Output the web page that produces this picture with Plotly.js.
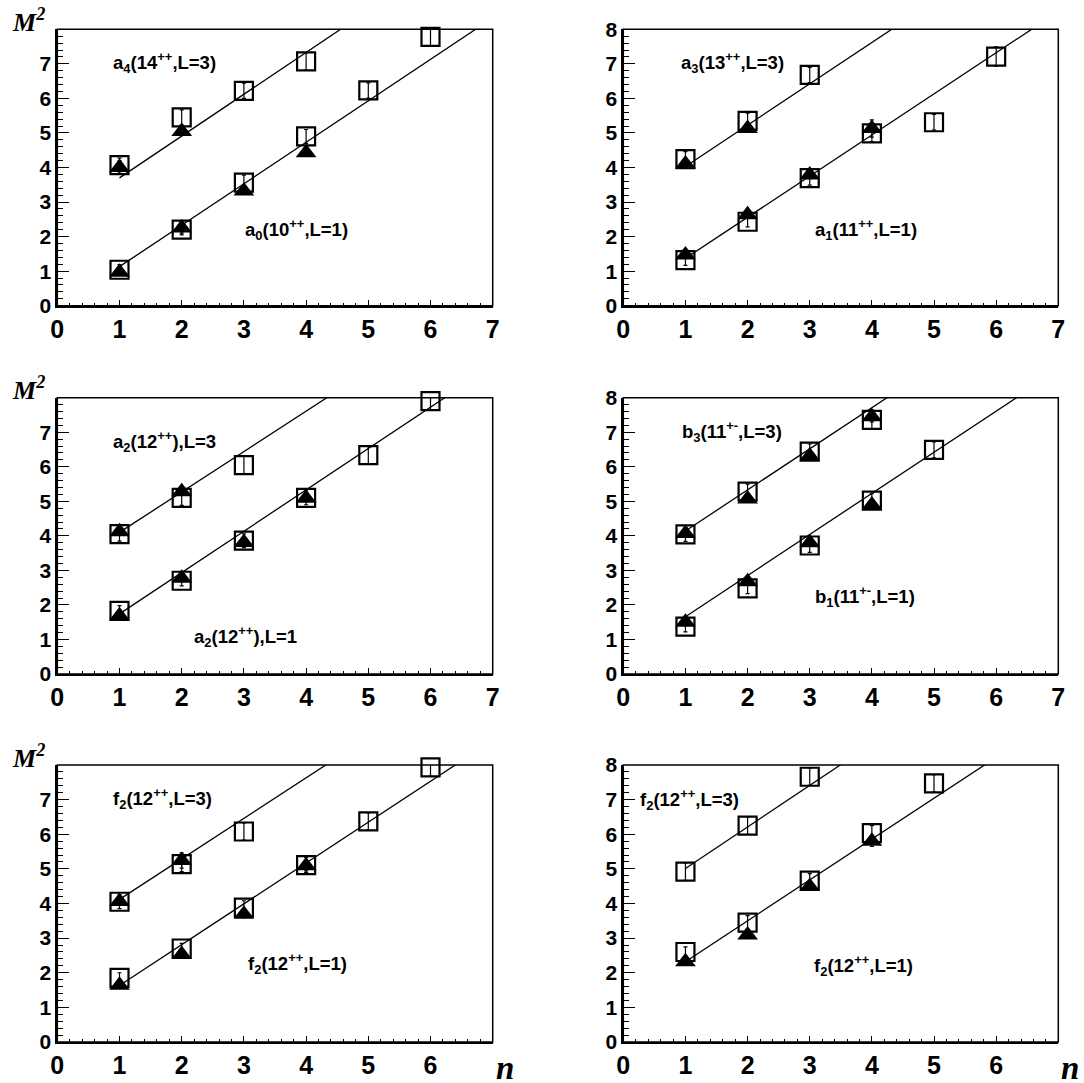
<!DOCTYPE html>
<html><head><meta charset="utf-8">
<script src="https://cdn.plot.ly/plotly-3.0.1.min.js"></script>
<style>html,body{margin:0;padding:0;background:#fff}</style>
</head><body><div id="chart" style="width:1084px;height:1083px"></div>
<script>
// ---- data (n = radial number, M^2 in GeV^2) ----
// Panel 1: a0 (L=1) / a4 (L=3)
const p1_sqHiN = [1,2,3,4],      p1_sqHi = [4.07,5.45,6.22,7.07],           p1_sqHiErr = [0.2,0.22,0.22,0.25];
const p1_trHiN = [1,2],          p1_trHi = [4.0,5.04],                      p1_trHiErr = [0.2,0.1];
const p1_sqLoN = [1,2,3,4,5,6],  p1_sqLo = [1.04,2.2,3.56,4.9,6.23,7.78],   p1_sqLoErr = [0.15,0.15,0.22,0.2,0.22,0.25];
const p1_trLoN = [1,2,3,4],      p1_trLo = [0.97,2.25,3.32,4.43],           p1_trLoErr = [0.05,0.15,0.1,0.1];
// Panel 2: a1 (L=1) / a3 (L=3)
const p2_sqHiN = [1,2,3],        p2_sqHi = [4.24,5.35,6.68],                p2_sqHiErr = [0.22,0.22,0.22];
const p2_trHiN = [1,2],          p2_trHi = [4.1,5.13],                      p2_trHiErr = [0.1,0.1];
const p2_sqLoN = [1,2,3,4,5,6],  p2_sqLo = [1.32,2.43,3.69,4.99,5.31,7.21], p2_sqLoErr = [0.15,0.15,0.2,0.25,0.23,0.28];
const p2_trLoN = [1,2,3,4],      p2_trLo = [1.47,2.63,3.78,5.13],           p2_trLoErr = [0.1,0.1,0.1,0.25];
// Panel 3: a2 (L=1) / a2 (L=3)
const p3_sqHiN = [1,2,3],        p3_sqHi = [4.05,5.1,6.05],                 p3_sqHiErr = [0.2,0.22,0.25];
const p3_trHiN = [1,2],          p3_trHi = [4.12,5.28],                     p3_trHiErr = [0.1,0.1];
const p3_sqLoN = [1,2,3,4,5,6],  p3_sqLo = [1.83,2.7,3.86,5.1,6.34,7.9],    p3_sqLoErr = [0.15,0.15,0.2,0.2,0.25,0.25];
const p3_trLoN = [1,2,3,4],      p3_trLo = [1.69,2.77,3.81,5.09],           p3_trLoErr = [0.05,0.1,0.1,0.1];
// Panel 4: b1 (L=1) / b3 (L=3)
const p4_sqHiN = [1,2,3,4],      p4_sqHi = [4.04,5.28,6.44,7.36],           p4_sqHiErr = [0.2,0.22,0.22,0.28];
const p4_trHiN = [1,2,3,4],      p4_trHi = [4.07,5.07,6.31,7.45],           p4_trHiErr = [0.1,0.1,0.1,0.15];
const p4_sqLoN = [1,2,3,4,5],    p4_sqLo = [1.37,2.48,3.72,5.02,6.49],      p4_sqLoErr = [0.15,0.15,0.2,0.2,0.23];
const p4_trLoN = [1,2,3,4],      p4_trLo = [1.5,2.67,3.8,4.89],             p4_trLoErr = [0.05,0.1,0.1,0.1];
// Panel 5: f2 (L=1) / f2 (L=3)
const p5_sqHiN = [1,2,3],        p5_sqHi = [4.05,5.14,6.08],                p5_sqHiErr = [0.2,0.22,0.25];
const p5_trHiN = [1,2],          p5_trHi = [4.06,5.24],                     p5_trHiErr = [0.1,0.22];
const p5_sqLoN = [1,2,3,4,5,6],  p5_sqLo = [1.85,2.7,3.88,5.11,6.37,7.93],  p5_sqLoErr = [0.15,0.15,0.2,0.22,0.25,0.25];
const p5_trLoN = [1,2,3,4],      p5_trLo = [1.64,2.53,3.69,5.09],           p5_trLoErr = [0.05,0.1,0.1,0.15];
// Panel 6: f2 (L=1) / f2 (L=3)
const p6_sqHiN = [1,2,3],        p6_sqHi = [4.92,6.25,7.66],                p6_sqHiErr = [0.25,0.25,0.25];
const p6_trHiN = [],             p6_trHi = [],                              p6_trHiErr = [];
const p6_sqLoN = [1,2,3,4,5],    p6_sqLo = [2.6,3.45,4.66,6.03,7.47],       p6_sqLoErr = [0.15,0.2,0.2,0.22,0.25];
const p6_trLoN = [1,2,3,4],      p6_trLo = [2.32,3.09,4.49,5.8],            p6_trLoErr = [0.05,0.1,0.1,0.15];

// linear trajectories: value at n=1 and slope
const fitHiAt1  = [3.70, 4.03, 4.10, 4.14, 4.12, 5.01];
const fitHiSlope= [1.21, 1.196,1.17, 1.19, 1.17, 1.20];
const fitLoAt1  = [1.13, 1.37, 1.74, 1.66, 1.63, 2.32];
const fitLoSlope= [1.20, 1.19, 1.197,1.19, 1.18, 1.18];

// labels
const labelHi = ['a<sub>4</sub>(14<sup>++</sup>,L=3)','a<sub>3</sub>(13<sup>++</sup>,L=3)','a<sub>2</sub>(12<sup>++</sup>),L=3',
                 'b<sub>3</sub>(11<sup>+-</sup>,L=3)','f<sub>2</sub>(12<sup>++</sup>,L=3)','f<sub>2</sub>(12<sup>++</sup>,L=3)'];
const labelLo = ['a<sub>0</sub>(10<sup>++</sup>,L=1)','a<sub>1</sub>(11<sup>++</sup>,L=1)','a<sub>2</sub>(12<sup>++</sup>),L=1',
                 'b<sub>1</sub>(11<sup>+-</sup>,L=1)','f<sub>2</sub>(12<sup>++</sup>,L=1)','f<sub>2</sub>(12<sup>++</sup>,L=1)'];
const labelHiPos = [[0.87,7.05],[0.89,7.05],[0.87,6.73],[0.91,7.02],[0.87,7.03],[0.23,6.99]];
const labelLoPos = [[2.99,2.2],[3.06,2.2],[2.16,1.08],[3.06,2.24],[3.04,2.28],[3.03,2.22]];

const xTicksTop = [0,1,2,3,4,5,6,7];
const xTicksBottom = [0,1,2,3,4,5,6];
const yTicksLeft = [0,1,2,3,4,5,6,7];
const yTicksRight = [0,1,2,3,4,5,6,7,8];

const panels = [
  {sqHiN:p1_sqHiN,sqHi:p1_sqHi,sqHiErr:p1_sqHiErr,trHiN:p1_trHiN,trHi:p1_trHi,trHiErr:p1_trHiErr,sqLoN:p1_sqLoN,sqLo:p1_sqLo,sqLoErr:p1_sqLoErr,trLoN:p1_trLoN,trLo:p1_trLo,trLoErr:p1_trLoErr},
  {sqHiN:p2_sqHiN,sqHi:p2_sqHi,sqHiErr:p2_sqHiErr,trHiN:p2_trHiN,trHi:p2_trHi,trHiErr:p2_trHiErr,sqLoN:p2_sqLoN,sqLo:p2_sqLo,sqLoErr:p2_sqLoErr,trLoN:p2_trLoN,trLo:p2_trLo,trLoErr:p2_trLoErr},
  {sqHiN:p3_sqHiN,sqHi:p3_sqHi,sqHiErr:p3_sqHiErr,trHiN:p3_trHiN,trHi:p3_trHi,trHiErr:p3_trHiErr,sqLoN:p3_sqLoN,sqLo:p3_sqLo,sqLoErr:p3_sqLoErr,trLoN:p3_trLoN,trLo:p3_trLo,trLoErr:p3_trLoErr},
  {sqHiN:p4_sqHiN,sqHi:p4_sqHi,sqHiErr:p4_sqHiErr,trHiN:p4_trHiN,trHi:p4_trHi,trHiErr:p4_trHiErr,sqLoN:p4_sqLoN,sqLo:p4_sqLo,sqLoErr:p4_sqLoErr,trLoN:p4_trLoN,trLo:p4_trLo,trLoErr:p4_trLoErr},
  {sqHiN:p5_sqHiN,sqHi:p5_sqHi,sqHiErr:p5_sqHiErr,trHiN:p5_trHiN,trHi:p5_trHi,trHiErr:p5_trHiErr,sqLoN:p5_sqLoN,sqLo:p5_sqLo,sqLoErr:p5_sqLoErr,trLoN:p5_trLoN,trLo:p5_trLo,trLoErr:p5_trLoErr},
  {sqHiN:p6_sqHiN,sqHi:p6_sqHi,sqHiErr:p6_sqHiErr,trHiN:p6_trHiN,trHi:p6_trHi,trHiErr:p6_trHiErr,sqLoN:p6_sqLoN,sqLo:p6_sqLo,sqLoErr:p6_sqLoErr,trLoN:p6_trLoN,trLo:p6_trLo,trLoErr:p6_trLoErr}
];

// ---- layout geometry (pixels of the 1084x1083 page) ----
const W = 1084, H = 1083;
const colPx = [[57.3,492.7],[623.3,1058.3]];
const rowPx = [[29.3,305.7],[397.7,674],[765,1042]];

const FONT = '"Liberation Sans", Arial, Helvetica, sans-serif';
const SERIF = '"Liberation Serif", "Times New Roman", serif';
const bold = v => '<b>' + v + '</b>';

const traces = [];
const layout = {
  width: W, height: H, margin:{l:0,r:0,t:0,b:0},
  paper_bgcolor:'#fff', plot_bgcolor:'#fff', showlegend:false,
  annotations: [], shapes: []
};

panels.forEach((p, i) => {
  const row = Math.floor(i/2), col = i%2;
  const k = i===0 ? '' : String(i+1);
  const xa = 'x'+k, ya = 'y'+k;
  const errStyle = (arr) => ({type:'data', array:arr, visible:true, color:'#000', thickness:1.2, width:2});
  // fit lines (clipped by the axis range)
  const lineX = [1, 7];
  traces.push({x:lineX, y:lineX.map(v=>fitHiAt1[i]+fitHiSlope[i]*(v-1)), xaxis:xa, yaxis:ya, mode:'lines', line:{color:'#000', width:1.3}, hoverinfo:'skip'});
  traces.push({x:lineX, y:lineX.map(v=>fitLoAt1[i]+fitLoSlope[i]*(v-1)), xaxis:xa, yaxis:ya, mode:'lines', line:{color:'#000', width:1.3}, hoverinfo:'skip'});
  // squares
  [['sqHiN','sqHi','sqHiErr'],['sqLoN','sqLo','sqLoErr']].forEach(([a,b,c]) => {
    traces.push({x:p[a], y:p[b], error_y:errStyle(p[c]), xaxis:xa, yaxis:ya, mode:'markers', cliponaxis:false,
      marker:{symbol:'square-open', size:18, color:'#000', line:{color:'#000', width:2.2}}});
  });
  // triangles
  [['trHiN','trHi','trHiErr'],['trLoN','trLo','trLoErr']].forEach(([a,b,c]) => {
    if (!p[a].length) return;
    traces.push({x:p[a], y:p[b], error_y:errStyle(p[c]), xaxis:xa, yaxis:ya, mode:'markers', cliponaxis:false,
      marker:{symbol:'triangle-up', size:18, color:'#000', line:{color:'#000', width:0}}});
  });

  const xd = [colPx[col][0]/W, colPx[col][1]/W];
  const yd = [1 - rowPx[row][1]/H, 1 - rowPx[row][0]/H];
  const bottomRow = row === 2;
  const xt = bottomRow ? xTicksBottom : xTicksTop;
  const yt = col===0 ? yTicksLeft : yTicksRight;
  layout['xaxis'+k] = {
    domain: xd, anchor: ya, range:[0,7], fixedrange:true,
    tickmode:'array', tickvals: xt, ticktext: xt.map(bold),
    ticks:'inside', ticklen:6, tickwidth:1, tickcolor:'#000',
    minor:{dtick:0.2, ticks:'inside', ticklen:3, tickwidth:1, tickcolor:'#000'},
    showgrid:false, zeroline:false, showline:true, linecolor:'#000', linewidth:2,
    tickfont:{family:FONT, size:25, color:'#000'}
  };
  layout['yaxis'+k] = {
    domain: yd, anchor: xa, range:[0,8], fixedrange:true,
    tickmode:'array', tickvals: yt, ticktext: yt.map(bold),
    ticks:'inside', ticklen:12, tickwidth:1, tickcolor:'#000',
    minor:{dtick:0.2, ticks:'inside', ticklen:6, tickwidth:1, tickcolor:'#000'},
    showgrid:false, zeroline:false, showline:true, linecolor:'#000', linewidth:2,
    tickfont:{family:FONT, size:21, color:'#000'}
  };
  // frame (top & right edges)
  layout.shapes.push({type:'rect', xref:xa+' domain', yref:ya+' domain', x0:0, x1:1, y0:0, y1:1, line:{color:'#000', width:1.5}, layer:'above'});
  // labels
  layout.annotations.push({xref:xa, yref:ya, x:labelHiPos[i][0], y:labelHiPos[i][1], xanchor:'left', yanchor:'middle', showarrow:false,
    text:bold(labelHi[i]), font:{family:FONT, size:18.5, color:'#000'}});
  layout.annotations.push({xref:xa, yref:ya, x:labelLoPos[i][0], y:labelLoPos[i][1], xanchor:'left', yanchor:'middle', showarrow:false,
    text:bold(labelLo[i]), font:{family:FONT, size:18.5, color:'#000'}});
  // M^2 axis label on left column
  if (col === 0) {
    layout.annotations.push({xref:'paper', yref:'paper', x:10/W, y:1-(rowPx[row][0]-9)/H, xanchor:'left', yanchor:'middle', showarrow:false,
      text:'<b><i>M<sup>2</sup></i></b>', font:{family:SERIF, size:26, color:'#000'}});
  }
  if (bottomRow) {
    layout.annotations.push({xref:'paper', yref:'paper', x:(colPx[col][1]+12)/W, y:1-1068/H, xanchor:'center', yanchor:'middle', showarrow:false,
      text:'<b><i>n</i></b>', font:{family:SERIF, size:33, color:'#000'}});
  }
});

Plotly.newPlot('chart', traces, layout, {staticPlot:true, displayModeBar:false});
</script>
</body></html>
